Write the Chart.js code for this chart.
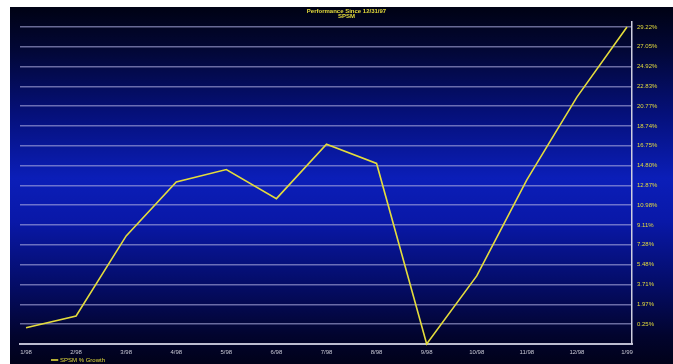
<!DOCTYPE html>
<html lang="en">
<head>
    <meta charset="UTF-8">
    <title>Performance Since 12/31/97</title>
    <script src="https://cdn.jsdelivr.net/npm/chart.js"></script>
    <style>
        body {
            margin: 0;
            padding: 0;
            background-color: #ffffff;
            overflow: hidden;
        }
        /* chart panel sits slightly inset from the top-left corner;
           its bottom strip runs past the window edge */
        #wrap {
            position: absolute;
            left: 10px;
            top: 7px;
            width: 663px;
            height: 373px;
        }
    </style>
</head>
<body>
    <div id="wrap"><canvas id="perfChart" width="663" height="373"></canvas></div>

    <script>
        // month-end labels
        const months = ['1/98', '2/98', '3/98', '4/98', '5/98', '6/98', '7/98', '8/98', '9/98', '10/98', '11/98', '12/98', '1/99'];
        // SPSM % growth since 12/31/97
        const growth = [-0.05, 0.96, 8.1, 13.2, 14.4, 11.6, 16.9, 15.0, -1.43, 4.47, 13.4, 21.7, 29.22];
        // right axis labels (log spaced)
        const tickPercents = [0.25, 1.97, 3.71, 5.48, 7.28, 9.11, 10.98, 12.87, 14.80, 16.75, 18.74, 20.77, 22.83, 24.92, 27.05, 29.22];
        const axisMinPct = -1.43;
        const axisMaxPct = 29.8;

        const yellow = '#e4dc3c';

        // dark blue gradient behind everything
        const background = {
            id: 'background',
            beforeDraw(chart) {
                const { ctx, width, height } = chart;
                const g = ctx.createLinearGradient(0, 0, 0, 357);
                g.addColorStop(0, '#000214');
                g.addColorStop(0.12, '#020736');
                g.addColorStop(0.3, '#05107a');
                g.addColorStop(0.48, '#0b1eb8');
                g.addColorStop(0.6, '#0918a8');
                g.addColorStop(0.78, '#040c66');
                g.addColorStop(0.92, '#02042e');
                g.addColorStop(1, '#01021a');
                ctx.save();
                ctx.fillStyle = g;
                ctx.fillRect(0, 0, width, height);
                ctx.restore();
            }
        };

        // legend sits low and a bit right of the plot's left edge
        const moveLegend = {
            id: 'moveLegend',
            afterLayout(chart) {
                const lg = chart.legend;
                lg.left = 41;
                lg.right = lg.left + lg.width;
                lg.top = 350;
                lg.bottom = lg.top + lg.height;
            }
        };

        const ctx = document.getElementById('perfChart').getContext('2d');
        new Chart(ctx, {
            type: 'line',
            data: {
                datasets: [{
                    label: 'SPSM % Growth',
                    data: growth.map((v, i) => ({ x: i, y: 100 + v })),
                    borderColor: yellow,
                    backgroundColor: yellow,
                    borderWidth: 1.6,
                    pointRadius: 0,
                    tension: 0,
                    clip: false
                }]
            },
            options: {
                responsive: false,
                animation: false,
                devicePixelRatio: 1,
                layout: { padding: { left: 10, top: 0, right: 0, bottom: 0 } },
                plugins: {
                    title: {
                        display: true,
                        text: ['Performance Since 12/31/97', 'SPSM'],
                        color: yellow,
                        font: { family: 'Arial, "Liberation Sans", sans-serif', size: 6, weight: 'bold', lineHeight: 0.85 },
                        padding: { top: 1.5, bottom: 3 }
                    },
                    legend: {
                        position: 'bottom',
                        align: 'start',
                        labels: {
                            color: yellow,
                            font: { family: 'Arial, "Liberation Sans", sans-serif', size: 6 },
                            usePointStyle: true,
                            pointStyle: 'line',
                            boxWidth: 6,
                            padding: 0
                        }
                    },
                    tooltip: { enabled: false }
                },
                scales: {
                    x: {
                        type: 'linear',
                        min: -0.12,
                        max: 12.1,
                        afterBuildTicks: (scale) => { scale.ticks = months.map((m, i) => ({ value: i })); },
                        afterFit: (scale) => { scale.height = 20; },
                        grid: { display: false, drawTicks: false },
                        border: { display: true, color: '#bcbcd0', width: 2 },
                        ticks: {
                            color: '#c8c8d4',
                            font: { family: 'Arial, "Liberation Sans", sans-serif', size: 6 },
                            padding: 5,
                            maxRotation: 0,
                            autoSkip: false,
                            callback: (v) => months[v]
                        }
                    },
                    y: {
                        type: 'logarithmic',
                        position: 'right',
                        min: 100 + axisMinPct,
                        max: 100 + axisMaxPct,
                        afterBuildTicks: (scale) => { scale.ticks = tickPercents.map(p => ({ value: 100 + p })); },
                        afterFit: (scale) => { scale.width = 41; },
                        grid: { color: 'rgba(175,175,225,0.6)', lineWidth: 1.5, drawTicks: false },
                        border: { display: true, color: '#cfcfe0', width: 1.5 },
                        ticks: {
                            color: yellow,
                            font: { family: 'Arial, "Liberation Sans", sans-serif', size: 6 },
                            padding: 5,
                            autoSkip: false,
                            callback: (v) => (v - 100).toFixed(2) + '%'
                        }
                    }
                }
            },
            plugins: [background, moveLegend]
        });
    </script>
</body>
</html>
